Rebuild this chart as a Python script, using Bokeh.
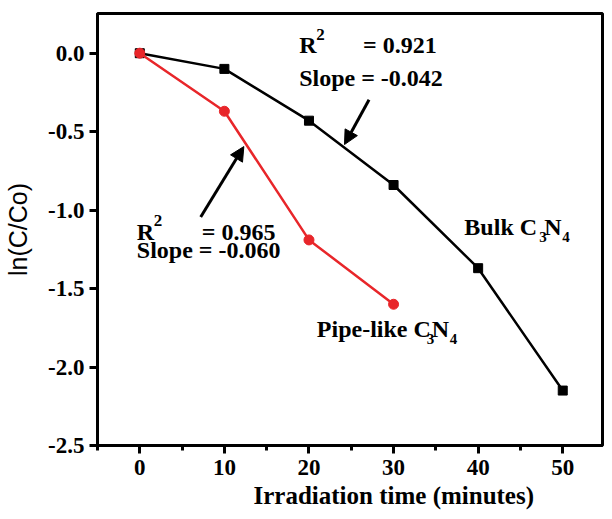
from bokeh.plotting import figure
from bokeh.models import (FixedTicker, NumeralTickFormatter, Range1d, Label, Arrow, NormalHead, Title)
from bokeh.embed import file_html
from bokeh.resources import INLINE

# ---- data ----
bulk_t = [0, 10, 20, 30, 40, 50]
bulk_ln = [0.0, -0.10, -0.43, -0.84, -1.37, -2.15]
pipe_t = [0, 10, 20, 30]
pipe_ln = [0.0, -0.37, -1.19, -1.60]
x_ticks = [0, 10, 20, 30, 40, 50]
x_minor = [-5, 5, 15, 25, 35, 45]
y_ticks = [-2.5, -2.0, -1.5, -1.0, -0.5, 0.0]

SERIF = "Liberation Serif"

p = figure(width=604, height=511, output_backend="svg", toolbar_location=None,
           x_range=Range1d(-5, 54.7), y_range=Range1d(-2.5, 0.253),
           min_border_left=97, min_border_right=2, min_border_top=13, min_border_bottom=0)
p.background_fill_color = "white"
p.border_fill_color = "white"
p.grid.visible = False
p.outline_line_color = "black"
p.outline_line_width = 3

for ax in (p.xaxis[0], p.yaxis[0]):
    ax.axis_line_width = 3
    ax.major_tick_line_width = 3
    ax.minor_tick_line_width = 3
    ax.major_tick_in = 0
    ax.major_tick_out = 8
    ax.minor_tick_in = 0
    ax.major_label_text_font = SERIF
    ax.major_label_text_font_style = "bold"
    ax.major_label_text_font_size = "23px"
    ax.major_label_text_color = "black"
    ax.axis_label_text_color = "black"

p.xaxis.ticker = FixedTicker(ticks=x_ticks, minor_ticks=x_minor)
p.xaxis.minor_tick_out = 5
p.xaxis.major_label_standoff = 6

p.yaxis.ticker = FixedTicker(ticks=y_ticks, minor_ticks=[])
p.yaxis.minor_tick_out = 0
p.yaxis.formatter = NumeralTickFormatter(format="0.0")
p.yaxis.major_label_standoff = 5
p.yaxis.axis_label = "ln(C/Co)"
p.yaxis.axis_label_text_font = "Liberation Sans"
p.yaxis.axis_label_text_font_style = "normal"
p.yaxis.axis_label_text_font_size = "25px"
p.yaxis.axis_label_standoff = 13

p.add_layout(Title(text="Irradiation time (minutes)", align="left", offset=156,
                   text_font=SERIF, text_font_style="bold", text_font_size="25px",
                   text_color="black", standoff=5), "below")

# ---- series ----
RED = "#e8262a"
p.line(bulk_t, bulk_ln, line_color="black", line_width=2.5)
p.scatter(bulk_t, bulk_ln, marker="square", size=9, fill_color="black", line_color="black")
p.line(pipe_t, pipe_ln, line_color=RED, line_width=2.5)
p.scatter(pipe_t, pipe_ln, marker="circle", size=10, fill_color=RED, line_color=RED)

# ---- annotations ----
UP = 7
def lab(x, y, text, size="24px", dx=0, dy=0):
    p.add_layout(Label(x=x, y=y, x_offset=dx, y_offset=dy + UP, text=text, text_font=SERIF,
                       text_font_style="bold", text_font_size=size, text_color="black",
                       text_baseline="alphabetic", text_align="left"))

lab(18.84, 0.006, "R")
lab(18.84, 0.006, "2", "17px", dx=17, dy=11)
lab(26.4, 0.006, "=  0.921")
lab(18.84, -0.203, "Slope = -0.042")

lab(-0.35, -1.184, "R")
lab(-0.35, -1.184, "2", "17px", dx=17, dy=11)
lab(7.33, -1.184, "= 0.965")
lab(-0.35, -1.297, "Slope = -0.060")

for (x0, y0, main) in [(38.37, -1.152, "Bulk C"), (20.93, -1.804, "Pipe-like C")]:
    w = {"Bulk C": 76, "Pipe-like C": 111}[main]
    lab(x0, y0, main, "24px")
    lab(x0, y0, "3", "15px", dx=w - 1, dy=-10)
    lab(x0, y0, "N", "24px", dx=w + 4)
    lab(x0, y0, "4", "15px", dx=w + 22, dy=-10)

for (xs, ys, xe, ye) in [(27.1, -0.297, 24.2, -0.582), (7.2, -1.044, 12.3, -0.595)]:
    p.add_layout(Arrow(x_start=xs, y_start=ys, x_end=xe, y_end=ye, line_color="black",
                       line_width=3,
                       end=NormalHead(size=14, fill_color="black", line_color="black")))

open("out.html", "w").write(file_html(p, INLINE))
